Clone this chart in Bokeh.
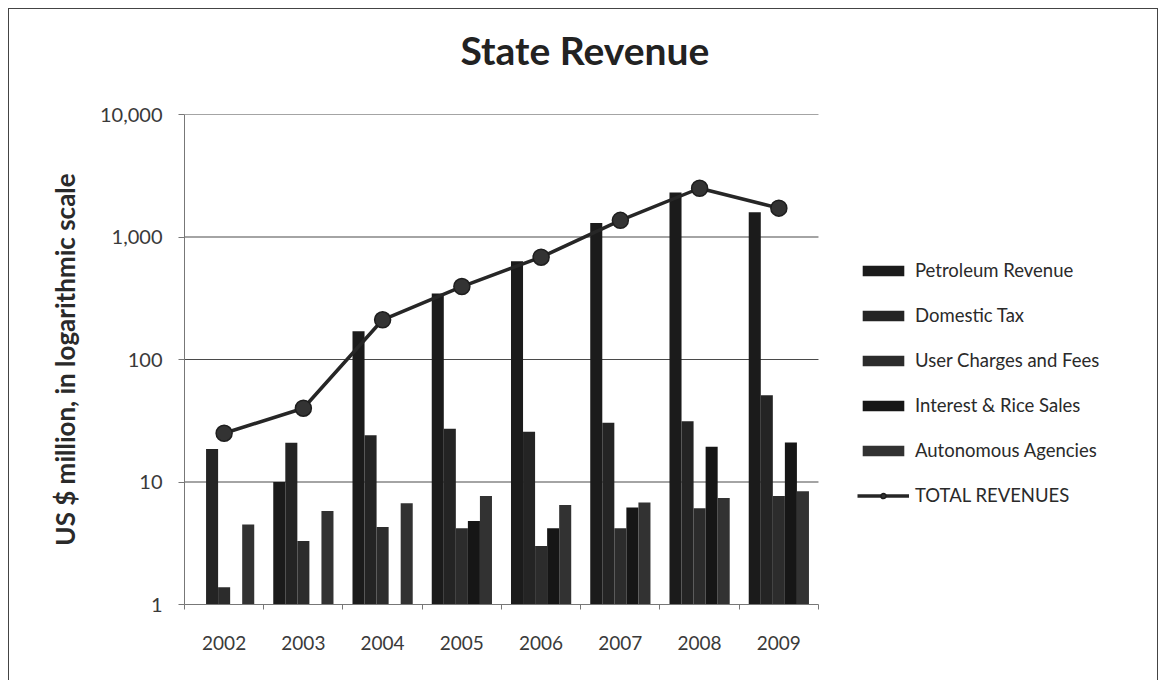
from bokeh.plotting import figure
from bokeh.models import (FixedTicker, NumeralTickFormatter, Legend, LegendItem,
                          Range1d, ColumnDataSource, Title)
from bokeh.embed import file_html
from bokeh.resources import INLINE

years = ["2002", "2003", "2004", "2005", "2006", "2007", "2008", "2009"]
petroleum = [0, 10.0, 170, 345, 635, 1300, 2310, 1590]
domestic = [18.6, 20.9, 24.1, 27.2, 25.7, 30.4, 31.4, 51]
user_charges = [1.38, 3.3, 4.3, 4.2, 3.0, 4.2, 6.1, 7.7]
interest = [0, 0, 0, 4.8, 4.2, 6.2, 19.4, 21]
autonomous = [4.5, 5.8, 6.7, 7.7, 6.5, 6.8, 7.4, 8.4]
total = [25, 40, 211, 394, 684, 1367, 2500, 1720]
y_ticks = [1, 10, 100, 1000, 10000]

series_names = ["Petroleum Revenue", "Domestic Tax", "User Charges and Fees",
                "Interest & Rice Sales", "Autonomous Agencies"]
series_vals = [petroleum, domestic, user_charges, interest, autonomous]
series_colors = ["#1b1b1b", "#242424", "#2c2c2c", "#161616", "#323232"]

FONT = "Lato"
W, H = 1150, 672
BL, BR = 175, 10
FRAME_W = W - BL - BR - 3
PLOT_W = 632          # width used by the 8 year categories
n = len(years)
x_end = n * FRAME_W / PLOT_W

p = figure(width=W, height=H, output_backend="svg", toolbar_location=None,
           y_axis_type="log", x_range=Range1d(0, x_end), y_range=Range1d(1, 10000),
           min_border_left=BL, min_border_right=BR, min_border_top=105,
           min_border_bottom=77)
p.styles = {"margin-left": "8px", "margin-top": "8px",
            "border-left": "1.5px solid #444", "border-top": "1.5px solid #444",
            "border-right": "1.5px solid #444"}
p.outline_line_color = None
p.background_fill_color = "white"
p.border_fill_color = "white"

# horizontal grid lines limited to the category area
grid_y = [t for t in y_ticks if t > 1]
p.segment(x0=[0] * len(grid_y), x1=[n] * len(grid_y), y0=grid_y, y1=grid_y,
          line_color="#4a4a4a", line_width=1.2)

bar_w = 0.152
offsets = [-2 * bar_w, -bar_w, 0, bar_w, 2 * bar_w]
legend_items = []
for name, vals, col, off in zip(series_names, series_vals, series_colors, offsets):
    xs = [i + 0.5 + off for i, v in enumerate(vals) if v > 0]
    tops = [v for v in vals if v > 0]
    src = ColumnDataSource(dict(x=xs, top=tops))
    r = p.vbar(x="x", top="top", bottom=1, width=bar_w, source=src,
               fill_color=col, line_color=None)
    legend_items.append(LegendItem(label=name, renderers=[r]))

tx = [i + 0.5 for i in range(n)]
lr = p.line(tx, total, line_color="#262626", line_width=3.5)
cr = p.scatter(tx, total, size=16, fill_color="#333333", line_color="#1e1e1e", line_width=1.5)
legend_items.append(LegendItem(label="TOTAL REVENUES", renderers=[lr, cr]))

# axes
p.xaxis.bounds = (0, n)
p.xaxis.ticker = FixedTicker(ticks=tx, minor_ticks=list(range(n + 1)))
p.xaxis.major_label_overrides = {t: y for t, y in zip(tx, years)}
p.xaxis.major_tick_out = 0
p.xaxis.major_tick_in = 0
p.xaxis.minor_tick_out = 5
p.xaxis.minor_tick_in = 0
p.xaxis.minor_tick_line_color = "#777777"
p.xaxis.axis_line_color = "#777777"
p.xaxis.major_label_standoff = 26
p.xaxis.major_label_text_font = FONT
p.xaxis.major_label_text_font_size = "19px"
p.xaxis.major_label_text_color = "#3a3a3a"
p.xgrid.visible = False
p.ygrid.visible = False

p.yaxis.ticker = FixedTicker(ticks=y_ticks, minor_ticks=[])
p.yaxis.formatter = NumeralTickFormatter(format="0,0")
p.yaxis.major_tick_out = 6
p.yaxis.major_tick_in = 0
p.yaxis.major_tick_line_color = "#777777"
p.yaxis.minor_tick_line_color = None
p.yaxis.axis_line_color = "#777777"
p.yaxis.major_label_standoff = 16
p.yaxis.major_label_text_font = FONT
p.yaxis.major_label_text_font_size = "20px"
p.yaxis.major_label_text_color = "#3a3a3a"
p.yaxis.axis_label = "US $ million, in logarithmic scale"
p.yaxis.axis_label_text_font = FONT
p.yaxis.axis_label_text_font_style = "bold"
p.yaxis.axis_label_text_font_size = "26px"
p.yaxis.axis_label_text_color = "#2a2a2a"
p.yaxis.axis_label_standoff = 16

# title: a blank spacer nearest the frame, then the title above it
p.add_layout(Title(text=" ", text_font_size="8px", standoff=17), "above")
p.add_layout(Title(text="State Revenue", align="left", offset=276,
                   vertical_align="bottom", standoff=28, text_font=FONT,
                   text_font_style="bold", text_font_size="39px",
                   text_color="#222222"), "above")

legend = Legend(items=legend_items, location=(673, 98), orientation="vertical",
                glyph_width=52, glyph_height=13, label_standoff=6, spacing=23,
                label_height=22, padding=0, margin=0, border_line_color=None,
                background_fill_alpha=0, label_text_font=FONT,
                label_text_font_size="18.5px", label_text_color="#2a2a2a")
p.add_layout(legend)

open("out.html", "w").write(file_html(p, INLINE))
